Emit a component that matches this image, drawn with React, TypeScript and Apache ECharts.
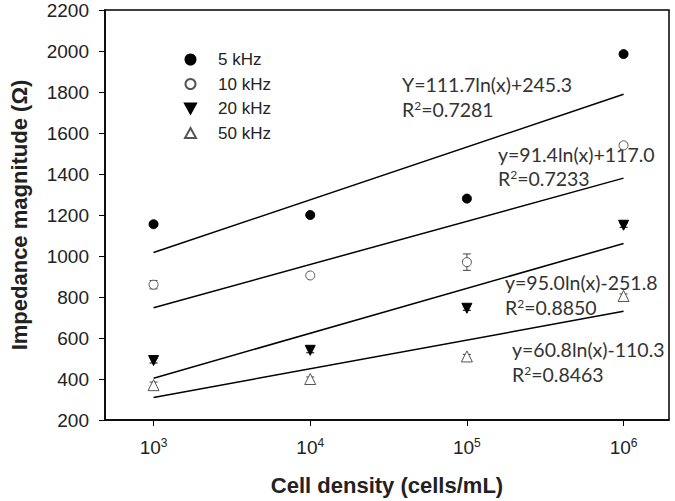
import React, { useEffect, useRef } from 'react';
import * as echarts from 'echarts';

// log10 of cell density (cells/mL)
const densityExp = [3, 4, 5, 6];
const seriesNames = ['5 kHz', '10 kHz', '20 kHz', '50 kHz'];
const imp5 = [1155, 1200, 1280, 1985];
const imp10 = [860, 905, 970, 1540];
const imp20 = [490, 540, 745, 1150];
const imp50 = [370, 400, 510, 805];
const err5 = [10, 10, 10, 10];
const err10 = [20, 10, 40, 10];
const err20 = [12, 12, 10, 10];
const err50 = [15, 10, 10, 10];
// logarithmic fit lines, endpoints at 10^3 and 10^6
const fitX = [3, 6];
const fit5 = [1017, 1789];
const fit10 = [748, 1380];
const fit20 = [404, 1061];
const fit50 = [310, 730];
const eqTexts = ['Y=111.7ln(x)+245.3', 'y=91.4ln(x)+117.0', 'y=95.0ln(x)-251.8', 'y=60.8ln(x)-110.3'];
const r2Texts = ['0.7281', '0.7233', '0.8850', '0.8463'];
const yTicks = { min: 200, max: 2200, interval: 200 };

const downTri = 'path://M0,0 L10,0 L5,9 Z';

export default function App() {
  const ref = useRef<HTMLDivElement>(null);
  useEffect(() => {
    document.body.style.margin = '0';
    const chart = echarts.init(ref.current!, null, { renderer: 'svg' });
    const labelFont = 'Arial';
    const eqFont = 'Lato';

    const errSeries = (vals: number[], errs: number[], color: string) => ({
      type: 'custom',
      silent: true,
      z: 1,
      data: densityExp.map((x, i) => [x, vals[i], errs[i]]),
      renderItem: (params: any, api: any) => {
        const x = api.value(0), y = api.value(1), e = api.value(2);
        const t = api.coord([x, y + e]);
        const b = api.coord([x, y - e]);
        const hw = 4;
        const st = { stroke: color, lineWidth: 1 };
        return {
          type: 'group',
          children: [
            { type: 'line', shape: { x1: t[0], y1: t[1], x2: b[0], y2: b[1] }, style: st },
            { type: 'line', shape: { x1: t[0] - hw, y1: t[1], x2: t[0] + hw, y2: t[1] }, style: st },
            { type: 'line', shape: { x1: b[0] - hw, y1: b[1], x2: b[0] + hw, y2: b[1] }, style: st },
          ],
        };
      },
    });

    const scatter = (name: string, vals: number[], symbol: string, fill: string, border: string, size = 9) => ({
      name,
      type: 'scatter',
      z: 3,
      symbol,
      symbolSize: size,
      itemStyle: { color: fill, borderColor: border, borderWidth: 1, opacity: 1 },
      data: densityExp.map((x, i) => [x, vals[i]]),
    });

    const fit = (vals: number[]) => ({
      type: 'line',
      silent: true,
      symbol: 'none',
      z: 2,
      lineStyle: { color: '#000', width: 1.5 },
      data: fitX.map((x, i) => [x, vals[i]]),
    });

    const eqPos = [
      [402, 85, 110],
      [498, 155, 179],
      [505, 283, 308],
      [512, 350, 375],
    ];
    const graphics: any[] = [];
    eqTexts.forEach((t, i) => {
      const [x, y1, y2] = eqPos[i];
      graphics.push({
        type: 'text', left: x, top: y1 - 11,
        style: { text: t, fill: '#333', font: `19.5px ${eqFont}` },
      });
      graphics.push({
        type: 'text', left: x, top: y2 - 11,
        style: {
          text: `R{s|2}=${r2Texts[i]}`, fill: '#333', font: `19.5px ${eqFont}`,
          rich: { s: { fontSize: 12, fontFamily: eqFont, verticalAlign: 'top', padding: [0, 0, 7, 0], fill: '#333' } },
        } as any,
      });
    });

    chart.setOption({
      animation: false,
      backgroundColor: '#fff',
      grid: { left: 98, right: 6, top: 10, bottom: 79, show: true, borderColor: '#000', borderWidth: 1.5, containLabel: false },
      legend: {
        data: [
          { name: seriesNames[0], icon: 'circle' },
          { name: seriesNames[1], icon: 'circle' },
          { name: seriesNames[2], icon: downTri },
          { name: seriesNames[3], icon: 'triangle' },
        ],
        orient: 'vertical',
        left: 179,
        top: 46,
        itemWidth: 11,
        itemHeight: 10,
        itemGap: 7.5,
        formatter: (n: string) => `{t|${n}}`,
        textStyle: {
          fontSize: 17, fontFamily: labelFont, color: '#222', lineHeight: 14,
          rich: { t: { fontSize: 17, fontFamily: labelFont, color: '#222', lineHeight: 14, padding: [0, 0, 0, 17] } },
        },
      },
      xAxis: {
        type: 'value',
        min: 2.69,
        max: 6.29,
        name: 'Cell density (cells/mL)',
        nameLocation: 'middle',
        nameGap: 54,
        nameTextStyle: { fontSize: 22, fontWeight: 'bold', fontFamily: labelFont, color: '#222' },
        axisLine: { lineStyle: { color: '#000', width: 1.5 } },
        axisTick: { show: true, inside: false, length: 6, lineStyle: { color: '#000' }, customValues: densityExp },
        splitLine: { show: false },
        axisLabel: {
          customValues: densityExp,
          margin: 17,
          formatter: (v: number) => `10{s|${Math.round(v)}}`,
          fontSize: 19,
          fontFamily: labelFont,
          color: '#222',
          rich: { s: { fontSize: 12, fontFamily: labelFont, color: '#222', verticalAlign: 'top', padding: [0, 0, 8, 0] } },
        },
      },
      yAxis: {
        type: 'value',
        min: yTicks.min,
        max: yTicks.max,
        interval: yTicks.interval,
        name: 'Impedance magnitude (Ω)',
        nameLocation: 'middle',
        nameGap: 75,
        nameTextStyle: { fontSize: 22, fontWeight: 'bold', fontFamily: labelFont, color: '#222' },
        axisLine: { show: true, lineStyle: { color: '#000', width: 1.5 } },
        axisTick: { show: true, inside: false, length: 6, lineStyle: { color: '#000' } },
        splitLine: { show: false },
        axisLabel: { margin: 16, fontSize: 19, fontFamily: labelFont, color: '#222', formatter: (v: number) => String(v) },
      },
      graphic: graphics,
      series: [
        fit(fit5), fit(fit10), fit(fit20), fit(fit50),
        errSeries(imp5, err5, '#000'),
        errSeries(imp10, err10, '#444'),
        errSeries(imp20, err20, '#000'),
        errSeries(imp50, err50, '#444'),
        scatter(seriesNames[0], imp5, 'circle', '#000', '#000', 9),
        scatter(seriesNames[1], imp10, 'circle', '#fff', '#555', 9),
        scatter(seriesNames[2], imp20, downTri, '#000', '#000', 10),
        scatter(seriesNames[3], imp50, 'triangle', '#fff', '#555', 11),
      ],
    });
    return () => chart.dispose();
  }, []);
  return <div ref={ref} style={{ width: 675, height: 501 }} />;
}
